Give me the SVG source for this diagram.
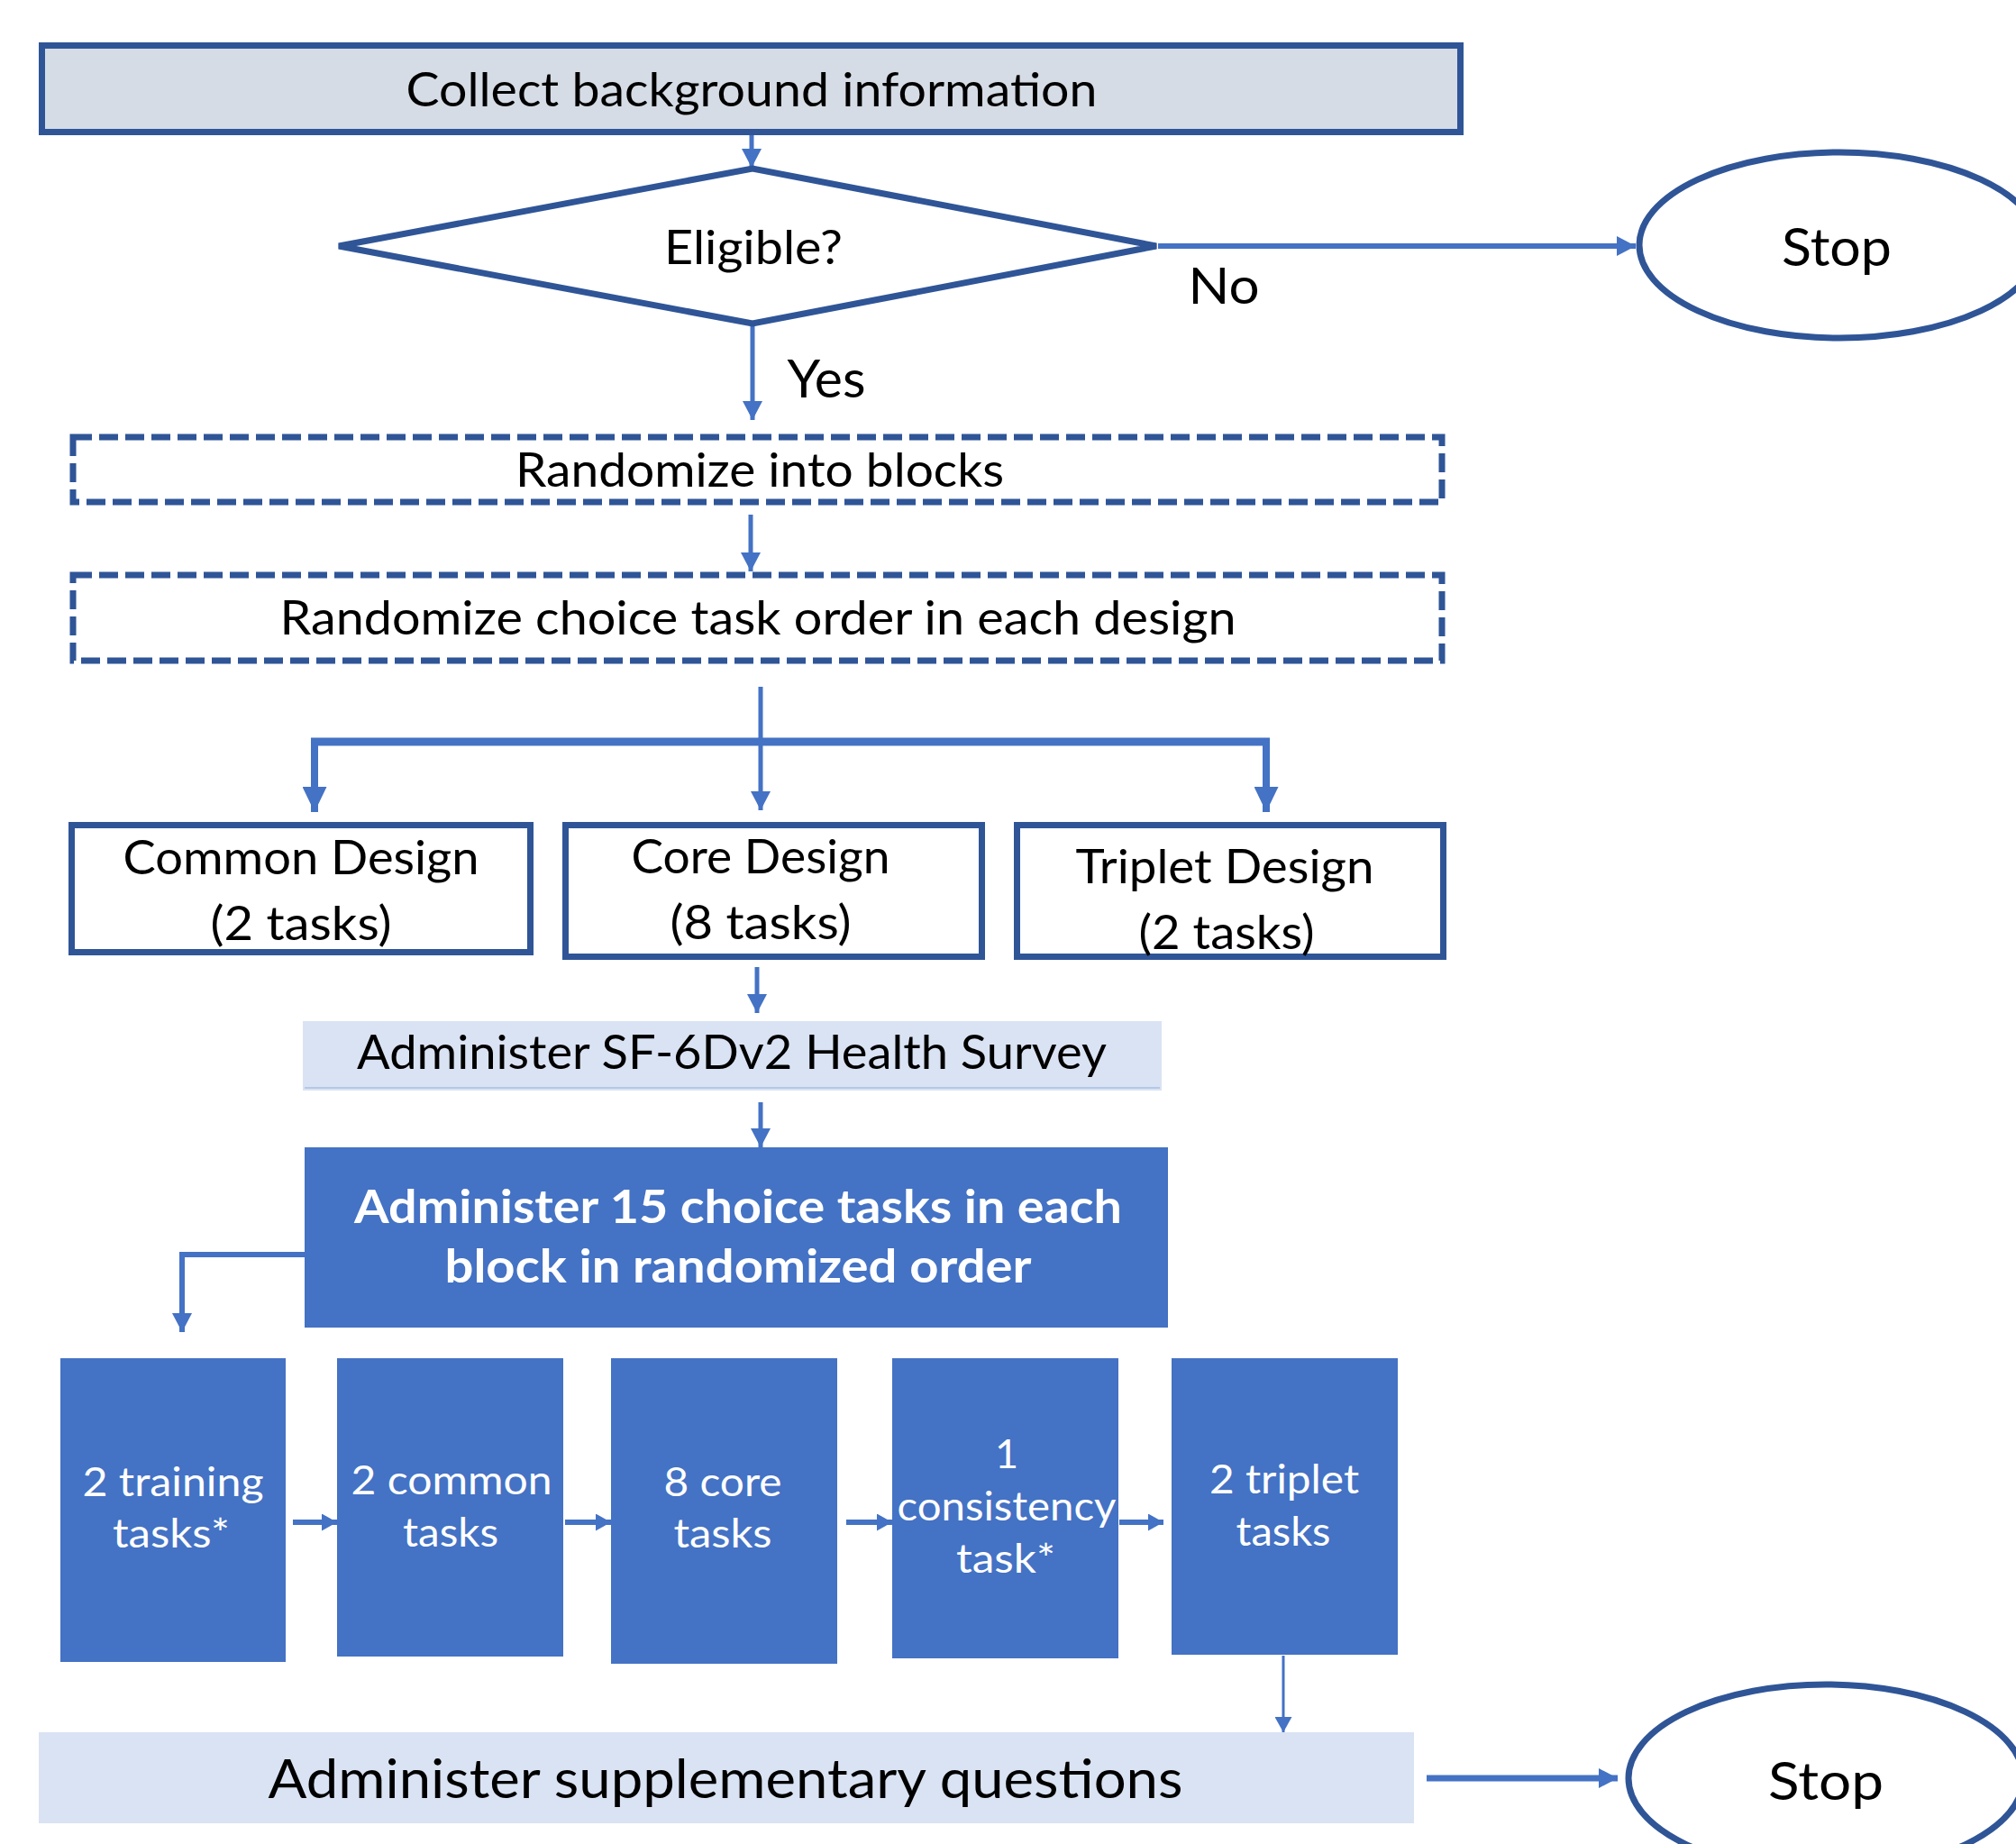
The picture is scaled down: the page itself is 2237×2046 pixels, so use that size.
<svg xmlns="http://www.w3.org/2000/svg" width="2237" height="2046" viewBox="0 0 2237 2046">
<style>
  .node { stroke: #2F5597; stroke-width: 7; }
  .t { font-family: Lato, "Open Sans", "Liberation Sans", sans-serif; fill: #000; text-anchor: middle; }
  .w { font-family: Lato, "Open Sans", "Liberation Sans", sans-serif; fill: #fff; text-anchor: middle; }
  .b { font-weight: bold; }
  .c { stroke: #4472C4; fill: none; }
  .task { fill: #4472C4; }
  .light { fill: #DAE3F3; }
</style>
<defs>
  <marker id="ah" markerUnits="userSpaceOnUse" markerWidth="21" markerHeight="22" refX="21" refY="11" orient="auto">
    <path d="M0,0 L21,11 L0,22 z" fill="#4472C4"/>
  </marker>
  <marker id="ahs" markerUnits="userSpaceOnUse" markerWidth="17" markerHeight="19" refX="17" refY="9.5" orient="auto">
    <path d="M0,0 L17,9.5 L0,19 z" fill="#4472C4"/>
  </marker>
  <marker id="ahb" markerUnits="userSpaceOnUse" markerWidth="28" markerHeight="27" refX="28" refY="13.5" orient="auto">
    <path d="M0,0 L28,13.5 L0,27 z" fill="#4472C4"/>
  </marker>
</defs>

<g id="connectors">
  <line class="c" x1="834" y1="150" x2="834" y2="186" stroke-width="5" marker-end="url(#ah)"/>
  <line class="c" x1="1285" y1="273" x2="1815" y2="273" stroke-width="6" marker-end="url(#ah)"/>
  <line class="c" x1="835" y1="360" x2="835" y2="466" stroke-width="5" marker-end="url(#ah)"/>
  <line class="c" x1="833" y1="571" x2="833" y2="634" stroke-width="5" marker-end="url(#ah)"/>
  <line class="c" x1="844" y1="762" x2="844" y2="899" stroke-width="5" marker-end="url(#ah)"/>
  <line class="c" x1="345" y1="823" x2="1409" y2="823" stroke-width="9"/>
  <line class="c" x1="349" y1="819" x2="349" y2="901" stroke-width="8" marker-end="url(#ahb)"/>
  <line class="c" x1="1405" y1="819" x2="1405" y2="901" stroke-width="8" marker-end="url(#ahb)"/>
  <line class="c" x1="840" y1="1073" x2="840" y2="1124" stroke-width="5" marker-end="url(#ah)"/>
  <line class="c" x1="844" y1="1223" x2="844" y2="1273" stroke-width="5" marker-end="url(#ah)"/>
  <polyline class="c" points="338,1392 202,1392 202,1478" stroke-width="6" marker-end="url(#ah)"/>
  <line class="c" x1="325" y1="1689" x2="374" y2="1689" stroke-width="6" marker-end="url(#ahs)"/>
  <line class="c" x1="627" y1="1689" x2="678" y2="1689" stroke-width="6" marker-end="url(#ahs)"/>
  <line class="c" x1="939" y1="1689" x2="990" y2="1689" stroke-width="6" marker-end="url(#ahs)"/>
  <line class="c" x1="1242" y1="1689" x2="1291" y2="1689" stroke-width="6" marker-end="url(#ahs)"/>
  <line class="c" x1="1424" y1="1837" x2="1424" y2="1922" stroke-width="3" marker-end="url(#ahs)"/>
  <line class="c" x1="1583" y1="1973" x2="1795" y2="1973" stroke-width="7" marker-end="url(#ah)"/>
</g>

<g id="collect">
  <rect class="node" x="46.5" y="50.5" width="1574" height="96" fill="#D6DCE5"/>
  <text class="t" x="834" y="118" font-size="53" textLength="767" lengthAdjust="spacingAndGlyphs">Collect background information</text>
</g>

<g id="eligible">
  <polygon class="node" points="376,273 835,187 1283,273 835,359" fill="#fff" stroke-linejoin="miter"/>
  <text class="t" x="836" y="293" font-size="52" textLength="198" lengthAdjust="spacingAndGlyphs">Eligible?</text>
</g>

<text class="t" x="1358" y="337" font-size="56" textLength="79" lengthAdjust="spacingAndGlyphs">No</text>
<text class="t" x="917" y="441" font-size="58" textLength="87" lengthAdjust="spacingAndGlyphs">Yes</text>

<g id="stop1">
  <ellipse class="node" cx="2041" cy="272" rx="222" ry="103" fill="#fff" stroke-width="6"/>
  <text class="t" x="2038" y="295" font-size="59" textLength="122" lengthAdjust="spacingAndGlyphs">Stop</text>
</g>

<g id="randomize-blocks">
  <rect class="node" x="81" y="485" width="1519" height="72" fill="#fff" stroke-dasharray="21 8"/>
  <text class="t" x="843" y="540" font-size="52" textLength="542" lengthAdjust="spacingAndGlyphs">Randomize into blocks</text>
</g>

<g id="randomize-order">
  <rect class="node" x="81" y="638" width="1519" height="95" fill="#fff" stroke-dasharray="21 8"/>
  <text class="t" x="841" y="704" font-size="52" textLength="1061" lengthAdjust="spacingAndGlyphs">Randomize choice task order in each design</text>
</g>

<g id="common-design">
  <rect class="node" x="79.5" y="915.5" width="509" height="141" fill="#fff"/>
  <text class="t" x="334" y="970" font-size="52" textLength="395" lengthAdjust="spacingAndGlyphs">Common Design</text>
  <text class="t" x="334" y="1043" font-size="52" textLength="201" lengthAdjust="spacingAndGlyphs">(2 tasks)</text>
</g>

<g id="core-design">
  <rect class="node" x="627.5" y="915.5" width="462" height="146" fill="#fff"/>
  <text class="t" x="844" y="969" font-size="52" textLength="287" lengthAdjust="spacingAndGlyphs">Core Design</text>
  <text class="t" x="844" y="1042" font-size="52" textLength="201" lengthAdjust="spacingAndGlyphs">(8 tasks)</text>
</g>

<g id="triplet-design">
  <rect class="node" x="1128.5" y="915.5" width="473" height="146" fill="#fff"/>
  <text class="t" x="1359" y="980" font-size="52" textLength="331" lengthAdjust="spacingAndGlyphs">Triplet Design</text>
  <text class="t" x="1361" y="1053" font-size="52" textLength="195" lengthAdjust="spacingAndGlyphs">(2 tasks)</text>
</g>

<g id="sf6d">
  <rect class="light" x="336" y="1133" width="953" height="77"/>
  <line x1="338" y1="1207" x2="1287" y2="1207" stroke="#B4C7E7" stroke-width="2"/>
  <text class="t" x="812" y="1186" font-size="53" textLength="832" lengthAdjust="spacingAndGlyphs">Administer SF-6Dv2 Health Survey</text>
</g>

<g id="administer-15">
  <rect class="task" x="338" y="1273" width="958" height="200"/>
  <text class="w b" x="819" y="1357" font-size="52" textLength="852" lengthAdjust="spacingAndGlyphs">Administer 15 choice tasks in each</text>
  <text class="w b" x="819" y="1423" font-size="52" textLength="651" lengthAdjust="spacingAndGlyphs">block in randomized order</text>
</g>

<g id="training">
  <rect class="task" x="67" y="1507" width="250" height="337"/>
  <text class="w" x="192" y="1660" font-size="45" textLength="201" lengthAdjust="spacingAndGlyphs">2 training</text>
  <text class="w" x="190" y="1717" font-size="45" textLength="130" lengthAdjust="spacingAndGlyphs">tasks*</text>
</g>

<g id="common-tasks">
  <rect class="task" x="374" y="1507" width="251" height="331"/>
  <text class="w" x="501" y="1658" font-size="45" textLength="223" lengthAdjust="spacingAndGlyphs">2 common</text>
  <text class="w" x="500" y="1716" font-size="45" textLength="106" lengthAdjust="spacingAndGlyphs">tasks</text>
</g>

<g id="core-tasks">
  <rect class="task" x="678" y="1507" width="251" height="339"/>
  <text class="w" x="802" y="1660" font-size="45" textLength="131" lengthAdjust="spacingAndGlyphs">8 core</text>
  <text class="w" x="802" y="1717" font-size="45" textLength="109" lengthAdjust="spacingAndGlyphs">tasks</text>
</g>

<g id="consistency-task">
  <rect class="task" x="990" y="1507" width="251" height="333"/>
  <text class="w" x="1117" y="1629" font-size="45">1</text>
  <text class="w" x="1117" y="1687" font-size="45" textLength="243" lengthAdjust="spacingAndGlyphs">consistency</text>
  <text class="w" x="1116" y="1745" font-size="45" textLength="110" lengthAdjust="spacingAndGlyphs">task*</text>
</g>

<g id="triplet-tasks">
  <rect class="task" x="1300" y="1507" width="251" height="329"/>
  <text class="w" x="1425" y="1657" font-size="45" textLength="166" lengthAdjust="spacingAndGlyphs">2 triplet</text>
  <text class="w" x="1424" y="1715" font-size="45" textLength="105" lengthAdjust="spacingAndGlyphs">tasks</text>
</g>

<g id="supplementary">
  <rect class="light" x="43" y="1922" width="1526" height="101"/>
  <text class="t" x="805" y="1995" font-size="60" textLength="1015" lengthAdjust="spacingAndGlyphs">Administer supplementary questions</text>
</g>

<g id="stop2">
  <ellipse class="node" cx="2026" cy="1973" rx="219" ry="104" fill="#fff" stroke-width="6"/>
  <text class="t" x="2026" y="1997" font-size="59" textLength="128" lengthAdjust="spacingAndGlyphs">Stop</text>
</g>
</svg>
